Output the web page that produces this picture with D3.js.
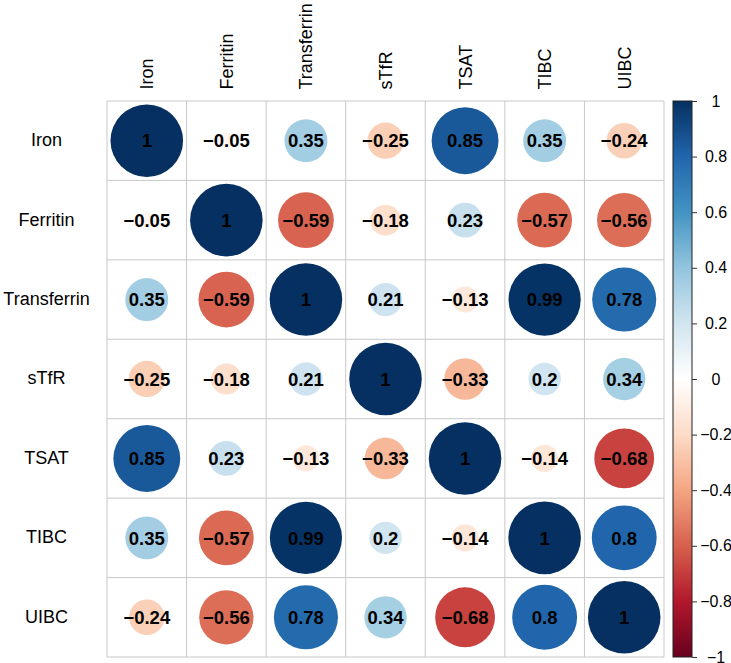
<!doctype html>
<html>
<head>
    <script src="https://d3js.org/d3.v7.min.js"></script>
    <style>
        body { margin: 0; background: #fff; }
        text { font-family: "Liberation Sans", Arial, sans-serif; }
    </style>
</head>
<body>
    <svg width="731" height="663"></svg>
    <script>
        var labels = ["Iron", "Ferritin", "Transferrin", "sTfR", "TSAT", "TIBC", "UIBC"];

        // correlation rows, same order as labels
        var rowIron        = [1, -0.05, 0.35, -0.25, 0.85, 0.35, -0.24];
        var rowFerritin    = [-0.05, 1, -0.59, -0.18, 0.23, -0.57, -0.56];
        var rowTransferrin = [0.35, -0.59, 1, 0.21, -0.13, 0.99, 0.78];
        var rowSTfR        = [-0.25, -0.18, 0.21, 1, -0.33, 0.2, 0.34];
        var rowTSAT        = [0.85, 0.23, -0.13, -0.33, 1, -0.14, -0.68];
        var rowTIBC        = [0.35, -0.57, 0.99, 0.2, -0.14, 1, 0.8];
        var rowUIBC        = [-0.24, -0.56, 0.78, 0.34, -0.68, 0.8, 1];
        var matrix = [rowIron, rowFerritin, rowTransferrin, rowSTfR, rowTSAT, rowTIBC, rowUIBC];

        var legendTicks = [-1, -0.8, -0.6, -0.4, -0.2, 0, 0.2, 0.4, 0.6, 0.8, 1];

        var palette = ["#67001F", "#B2182B", "#D6604D", "#F4A582", "#FDDBC7", "#FFFFFF",
                       "#D1E5F0", "#92C5DE", "#4393C3", "#2166AC", "#053061"];

        var svg = d3.select("svg");
        var gLeft = 107, gTop = 101, gRight = 664, gBottom = 657;

        var x = d3.scaleBand().domain(labels).range([gLeft, gRight]);
        var y = d3.scaleBand().domain(labels).range([gTop, gBottom]);
        var color = d3.scaleLinear()
            .domain(d3.range(palette.length).map(function(i) { return -1 + 2 * i / (palette.length - 1); }))
            .range(palette)
            .interpolate(d3.interpolateRgb);
        var rmax = x.bandwidth() * 0.456;
        var size = d3.scaleSqrt().domain([0, 1]).range([0, rmax]);

        var fmt = function(v) { return String(v).replace("-", "\u2212"); };

        var cells = [];
        matrix.forEach(function(row, i) {
            row.forEach(function(v, j) {
                cells.push({row: labels[i], col: labels[j], value: v});
            });
        });

        // grid
        var grid = svg.append("g");
        grid.selectAll(".vline")
            .data(d3.range(labels.length + 1))
            .enter().append("line")
            .attr("x1", function(d) { return gLeft + d * x.bandwidth(); })
            .attr("x2", function(d) { return gLeft + d * x.bandwidth(); })
            .attr("y1", gTop).attr("y2", gBottom)
            .attr("stroke", "#c8c8c8").attr("stroke-width", 1);
        grid.selectAll(".hline")
            .data(d3.range(labels.length + 1))
            .enter().append("line")
            .attr("y1", function(d) { return gTop + d * y.bandwidth(); })
            .attr("y2", function(d) { return gTop + d * y.bandwidth(); })
            .attr("x1", gLeft).attr("x2", gRight)
            .attr("stroke", "#c8c8c8").attr("stroke-width", 1);

        svg.append("g").selectAll("circle")
            .data(cells)
            .enter().append("circle")
            .attr("cx", function(d) { return x(d.col) + x.bandwidth() / 2; })
            .attr("cy", function(d) { return y(d.row) + y.bandwidth() / 2; })
            .attr("r", function(d) { return size(Math.abs(d.value)); })
            .attr("fill", function(d) { return color(d.value); });

        svg.append("g").selectAll("text")
            .data(cells)
            .enter().append("text")
            .attr("x", function(d) { return x(d.col) + x.bandwidth() / 2; })
            .attr("y", function(d) { return y(d.row) + y.bandwidth() / 2; })
            .attr("dy", "0.36em")
            .attr("text-anchor", "middle")
            .attr("font-size", "18.5px")
            .attr("font-weight", "bold")
            .attr("fill", "#000")
            .text(function(d) { return fmt(d.value); });

        // row labels
        svg.append("g").selectAll("text")
            .data(labels)
            .enter().append("text")
            .attr("x", 46.5)
            .attr("y", function(d) { return y(d) + y.bandwidth() / 2; })
            .attr("dy", "0.3em")
            .attr("text-anchor", "middle")
            .attr("font-size", "18px")
            .text(function(d) { return d; });

        // column labels
        svg.append("g").selectAll("text")
            .data(labels)
            .enter().append("text")
            .attr("transform", function(d) { return "translate(" + (x(d) + x.bandwidth() / 2) + ",89.5) rotate(-90)"; })
            .attr("dy", "0.36em")
            .attr("text-anchor", "start")
            .attr("font-size", "18px")
            .text(function(d) { return d; });

        // colour bar
        var barX = 673, barW = 19;
        var ly = d3.scaleLinear().domain([-1, 1]).range([gBottom, gTop]);

        var grad = svg.append("defs").append("linearGradient")
            .attr("id", "cbar")
            .attr("x1", 0).attr("y1", 1).attr("x2", 0).attr("y2", 0);
        grad.selectAll("stop")
            .data(d3.range(0, 1.0001, 0.02))
            .enter().append("stop")
            .attr("offset", function(d) { return d; })
            .attr("stop-color", function(d) { return color(-1 + 2 * d); });

        svg.append("rect")
            .attr("x", barX).attr("y", gTop)
            .attr("width", barW).attr("height", gBottom - gTop)
            .attr("fill", "url(#cbar)")
            .attr("stroke", "#222").attr("stroke-width", 1);

        var axis = svg.append("g")
            .attr("transform", "translate(" + (barX + barW) + ",0)")
            .call(d3.axisRight(ly).tickValues(legendTicks).tickSize(5).tickFormat(fmt));
        axis.select(".domain").remove();
        axis.selectAll(".tick line").attr("stroke", "#333");
        axis.selectAll(".tick text")
            .attr("x", 24)
            .attr("text-anchor", "middle")
            .attr("font-size", "16px")
            .attr("fill", "#000")
            .style("font-family", "'Liberation Sans', Arial, sans-serif");
    </script>
</body>
</html>
